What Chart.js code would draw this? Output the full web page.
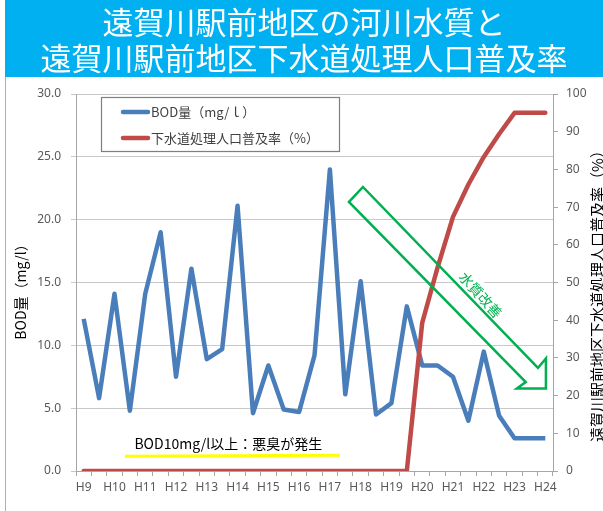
<!DOCTYPE html>
<html>
<head>
<meta charset="utf-8">
<script src="https://cdn.jsdelivr.net/npm/chart.js@4.4.1/dist/chart.umd.min.js"></script>
<style>
    body { margin: 0; background: #fff; }
    #wrap { position: relative; width: 603px; height: 511px; overflow: hidden; font-family: "Noto Sans CJK JP", sans-serif; }
    #banner {
        position: absolute; left: 5px; top: 0; width: 598px; height: 77px;
        background: #00B0F0; color: #fff; text-align: center;
        font-size: 31px; line-height: 36px; padding-top: 3px; box-sizing: border-box;
    }
    #frame { position: absolute; left: 5px; top: 77px; width: 700px; height: 600px; border-left: 1px solid #b0b0b0; }
    canvas { position: absolute; left: 0; top: 0; }
</style>
</head>
<body>
<div id="wrap">
    <div id="frame"></div>
    <canvas id="chart" width="603" height="511"></canvas>
    <div id="banner">遠賀川駅前地区の河川水質と<br>遠賀川駅前地区下水道処理人口普及率</div>
</div>

<script>
// 年度（半年ごとの点、ラベルは1年おき）
const labels = [
    "H9", "", "H10", "", "H11", "", "H12", "", "H13", "", "H14", "", "H15", "", "H16", "",
    "H17", "", "H18", "", "H19", "", "H20", "", "H21", "", "H22", "", "H23", "", "H24"
];

// BOD量 (mg/l)
const bod = [
    12.1, 5.8, 14.1, 4.8, 14.1, 19.0, 7.5, 16.1, 8.9, 9.7, 21.1, 4.6, 8.4, 4.9, 4.7, 9.2,
    24.0, 6.1, 15.1, 4.5, 5.4, 13.1, 8.4, 8.4, 7.5, 4.0, 9.5, 4.4, 2.6, 2.6, 2.6
];

// 下水道処理人口普及率 (%)
const sewer = [
    0, 0, 0, 0, 0, 0, 0, 0, 0, 0, 0, 0, 0, 0, 0, 0,
    0, 0, 0, 0, 0, 0, 39.3, 54, 67.4, 76, 83.3, 89.4, 95, 95, 95
];

const bodLabel = "BOD量（mg/ｌ）";
const sewerLabel = "下水道処理人口普及率（%）";

const JP = '"Noto Sans CJK JP", sans-serif';
const GREEN = "#00B050";

// 凡例・注記・矢印・軸タイトル
const extras = {
    id: "extras",
    beforeDatasetsDraw(chart) {
        const ctx = chart.ctx;
        const x = chart.scales.x, y = chart.scales.y;

        // 「水質改善」の白い下地
        ctx.save();
        ctx.translate(x.getPixelForValue(25.8), y.getPixelForValue(14.0));
        ctx.rotate(48 * Math.PI / 180);
        ctx.fillStyle = "#fff";
        ctx.fillRect(-32, -11, 64, 20);
        ctx.restore();
    },
    afterDatasetsDraw(chart) {
        const ctx = chart.ctx;
        const x = chart.scales.x, y = chart.scales.y;
        const px = v => x.getPixelForValue(v);
        const py = v => y.getPixelForValue(v);

        // legend box
        const ds = chart.data.datasets;
        ctx.save();
        ctx.fillStyle = "#fff";
        ctx.strokeStyle = "#7f7f7f";
        ctx.lineWidth = 1.2;
        ctx.fillRect(101, 97, 238, 54);
        ctx.strokeRect(101.5, 97.5, 238, 54);
        [0, 1].forEach(i => {
            const d = ds[i];
            const yy = 112 + i * 26;
            ctx.strokeStyle = d.borderColor;
            ctx.lineWidth = 4.5;
            ctx.lineCap = "round";
            ctx.beginPath();
            ctx.moveTo(123, yy);
            ctx.lineTo(148, yy);
            ctx.stroke();
            ctx.fillStyle = "#404040";
            ctx.font = "13px " + JP;
            ctx.textBaseline = "middle";
            ctx.textAlign = "left";
            ctx.fillText(d.label, 151, yy);
        });
        ctx.restore();

        // 注記と黄色い線
        ctx.save();
        ctx.fillStyle = "#000";
        ctx.font = "14px " + JP;
        ctx.textAlign = "center";
        ctx.textBaseline = "middle";
        ctx.fillText("BOD10mg/l以上：悪臭が発生", px(9.4), py(2.2));
        ctx.strokeStyle = "#FFFF00";
        ctx.lineWidth = 3;
        ctx.beginPath();
        ctx.moveTo(px(2.68), py(1.18));
        ctx.lineTo(px(16.65), py(1.26));
        ctx.stroke();
        ctx.restore();

        // 白抜きの矢印
        const arrow = [
            [17.24, 21.41], [18.15, 22.6], [29.52, 8.2], [30.04, 8.95],
            [30.04, 6.56], [28.15, 6.56], [28.73, 7.08]
        ];
        ctx.save();
        ctx.strokeStyle = GREEN;
        ctx.lineWidth = 2.5;
        ctx.lineJoin = "miter";
        ctx.beginPath();
        arrow.forEach(([a, b], i) => {
            if (i === 0) ctx.moveTo(px(a), py(b));
            else ctx.lineTo(px(a), py(b));
        });
        ctx.closePath();
        ctx.stroke();

        ctx.translate(px(25.8), py(14.0));
        ctx.rotate(48 * Math.PI / 180);
        ctx.fillStyle = GREEN;
        ctx.font = "14px " + JP;
        ctx.textAlign = "center";
        ctx.textBaseline = "middle";
        ctx.fillText("水質改善", 0, 0);
        ctx.restore();

        // axis titles
        const midY = (chart.chartArea.top + chart.chartArea.bottom) / 2;
        ctx.save();
        ctx.fillStyle = "#000";
        ctx.textAlign = "center";
        ctx.textBaseline = "middle";
        ctx.translate(21, midY + 6);
        ctx.rotate(-Math.PI / 2);
        ctx.font = "14px " + JP;
        ctx.fillText("BOD量（mg/l）", 0, 0);
        ctx.restore();

        ctx.save();
        ctx.fillStyle = "#000";
        ctx.textAlign = "center";
        ctx.textBaseline = "middle";
        ctx.translate(597, midY + 10);
        ctx.rotate(-Math.PI / 2);
        ctx.font = "15px " + JP;
        ctx.fillText("遠賀川駅前地区下水道処理人口普及率（%）", 0, 0);
        ctx.restore();
    }
};

const tickFont = { family: '"Noto Sans", sans-serif', size: 12 };

new Chart(document.getElementById("chart"), {
    type: "line",
    data: {
        labels,
        datasets: [
            {
                label: bodLabel,
                data: bod,
                yAxisID: "y",
                borderColor: "#4A7EBB",
                borderWidth: 4.5,
                pointRadius: 0,
                tension: 0,
                borderJoinStyle: "round",
                order: 1
            },
            {
                label: sewerLabel,
                data: sewer,
                yAxisID: "y2",
                borderColor: "#BE4B48",
                borderWidth: 4.5,
                pointRadius: 0,
                tension: 0,
                borderJoinStyle: "round",
                borderCapStyle: "round",
                order: 0
            }
        ]
    },
    options: {
        responsive: false,
        animation: false,
        devicePixelRatio: 1,
        layout: { padding: { top: 94, left: 0, right: 0, bottom: 0 } },
        plugins: {
            legend: { display: false },
            tooltip: { enabled: false }
        },
        scales: {
            x: {
                offset: true,
                grid: { offset: true, drawOnChartArea: false, color: "#a6a6a6", tickLength: 5 },
                border: { color: "#a6a6a6" },
                ticks: { autoSkip: false, maxRotation: 0, color: "#595959", font: tickFont, padding: 4 },
                afterFit(s) { s.height = 40; }
            },
            y: {
                position: "left",
                min: 0,
                max: 30,
                ticks: {
                    stepSize: 5,
                    color: "#595959",
                    font: tickFont,
                    padding: 10,
                    callback: v => v.toFixed(1)
                },
                grid: { color: "#c8c8c8", tickLength: 5 },
                border: { color: "#a6a6a6" },
                afterFit(s) { s.width = 76; }
            },
            y2: {
                position: "right",
                min: 0,
                max: 100,
                ticks: { stepSize: 10, color: "#595959", font: tickFont, padding: 8 },
                grid: { drawOnChartArea: false, color: "#a6a6a6", tickLength: 5 },
                border: { color: "#a6a6a6" },
                afterFit(s) { s.width = 50; }
            }
        }
    },
    plugins: [extras]
});
</script>
</body>
</html>
